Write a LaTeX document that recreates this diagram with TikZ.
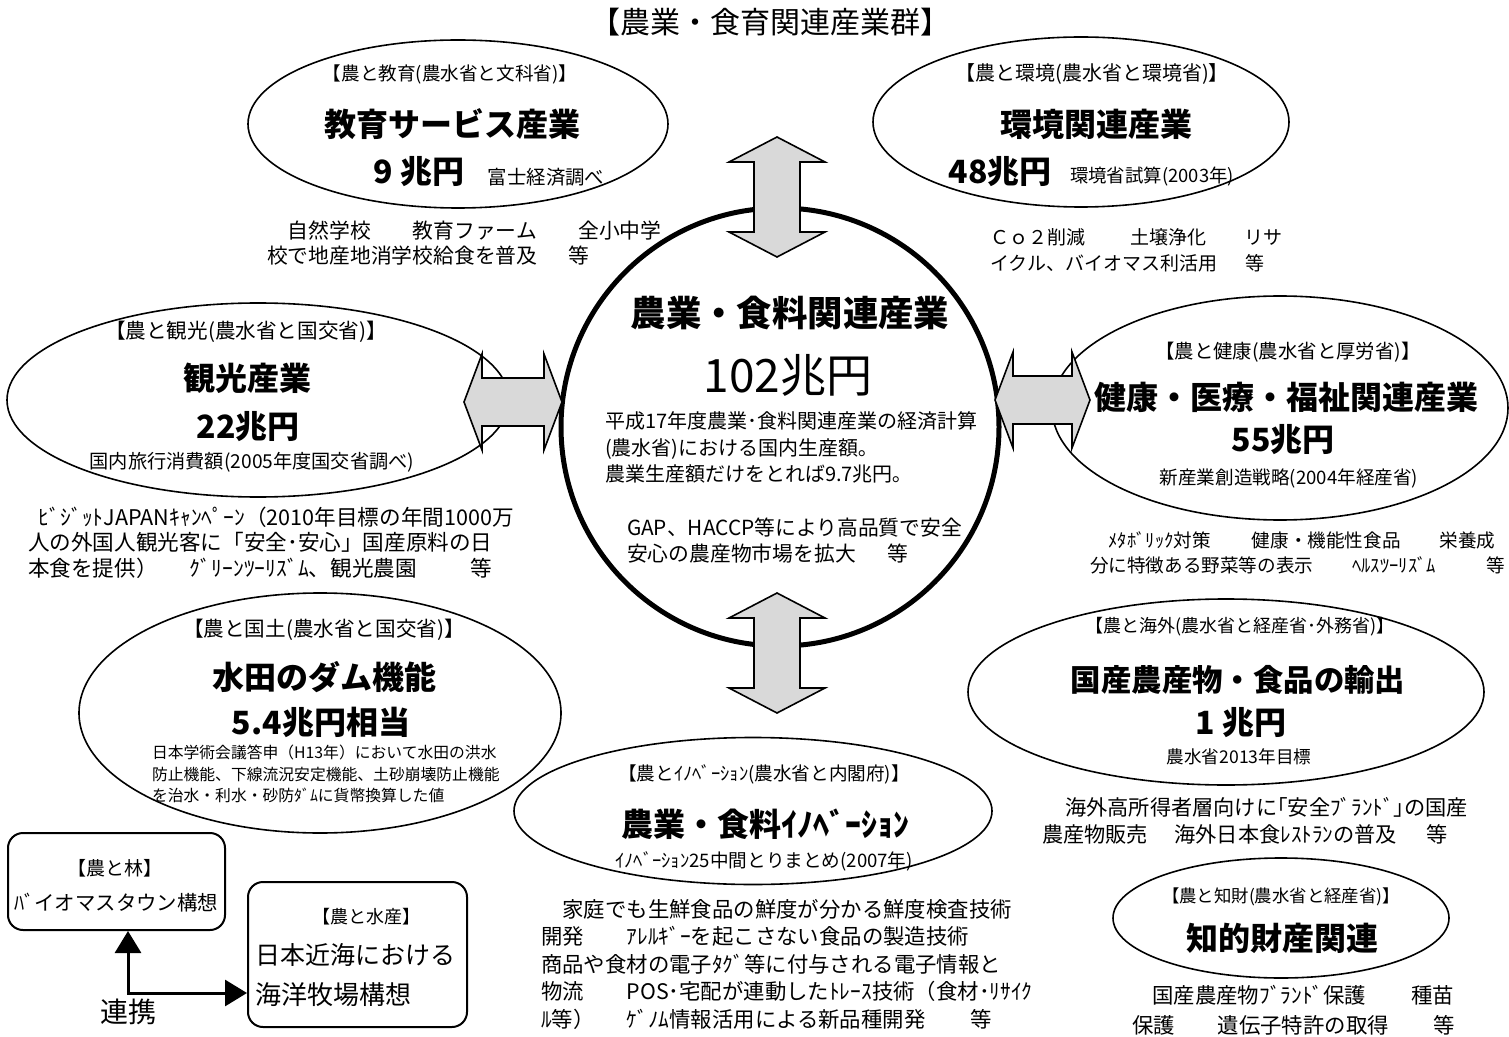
\documentclass[tikz,border=0pt]{standalone}
\usepackage{fontspec}
\setmainfont{Noto Sans CJK JP}
\usetikzlibrary{arrows.meta,shapes.geometric}
\definecolor{arrowgray}{RGB}{217,217,217}
\newcommand\jfs[2]{\fontsize{#1}{#2}\selectfont}
\newcommand\varrowshape[3]{\draw[dbl] (#1,#2) -- (#1+48,#2+25) -- (#1+23,#2+25) -- (#1+23,#3-25) -- (#1+48,#3-25) -- (#1,#3) -- (#1-48,#3-25) -- (#1-23,#3-25) -- (#1-23,#2+25) -- (#1-48,#2+25) -- cycle;}
\newcommand\harrowshape[3]{\draw[dbl] (#2,#1) -- (#2+18,#1-48) -- (#2+18,#1-24) -- (#3-18,#1-24) -- (#3-18,#1-48) -- (#3,#1) -- (#3-18,#1+48) -- (#3-18,#1+24) -- (#2+18,#1+24) -- (#2+18,#1+48) -- cycle;}
\tikzset{
  oval/.style={draw, ellipse, line width=0.8pt, inner sep=0pt, outer sep=0pt},
  txt/.style={inner sep=0pt, outer sep=0pt, anchor=center},
  blk/.style={inner sep=0pt, outer sep=0pt, anchor=north west, align=left},
  dbl/.style={draw, fill=arrowgray, line width=0.8pt, line join=miter},
  rbox/.style={draw, rounded corners=7.5pt, line width=1pt, inner sep=0pt},
  conn/.style={line width=1.5pt, {Triangle[length=11pt,width=13pt]}-{Triangle[length=11pt,width=13pt]}},
  bignum/.style={txt, font=\bfseries\jfs{16}{19}},
  namebold/.style={txt, font=\bfseries\jfs{16}{19}}
}
\begin{document}
\begin{tikzpicture}[x=0.5pt,y=-0.5pt]
\useasboundingbox (0,0) rectangle (1509,1037);

% title
\node[txt, font=\jfs{15}{18}] (title) at (770,22) {【農業・食育関連産業群】};

% ovals
\node[oval, minimum width=210pt, minimum height=84pt] (edu) at (458,124) {};
\node[oval, minimum width=208pt, minimum height=85pt] (env) at (1081,122) {};
\node[oval, minimum width=251pt, minimum height=97pt] (tour) at (258,400) {};
\node[oval, minimum width=228pt, minimum height=112pt] (health) at (1280,408) {};
\node[oval, minimum width=241pt, minimum height=120pt] (land) at (320,713) {};
\node[oval, minimum width=258pt, minimum height=93pt] (abroad) at (1226,692) {};
\node[oval, minimum width=168pt, minimum height=60pt] (ip) at (1281,918) {};
\node[oval, minimum width=239pt, minimum height=73.5pt] (innov) at (753,811) {};
\node[draw, circle, line width=2.5pt, minimum size=219pt, inner sep=0pt] (core) at (780,427) {};

% arrows
\varrowshape{777}{137}{257}
\varrowshape{777}{593}{713}
\harrowshape{402}{464}{562}
\harrowshape{400}{995}{1090}

% education
\node[txt, font=\jfs{9.3}{11}] (edus) at (450,74) {【農と教育(農水省と文科省)】};
\node[namebold] (edun) at (452,124) {教育サービス産業};
\node[bignum] (edua) at (419,172) {9 兆円};
\node[txt, font=\jfs{9.7}{11}] (edusrc) at (546,177) {富士経済調べ};
\node[blk, font=\jfs{10.4}{12.5}] (edud) at (267,221) {　自然学校\hspace{2em}教育ファーム\hspace{2em}全小中学\\校で地産地消学校給食を普及\hspace{1.5em}等};

% environment
\node[txt, font=\jfs{10}{12}] (envs) at (1092,74) {【農と環境(農水省と環境省)】};
\node[namebold] (envn) at (1096,124) {環境関連産業};
\node[bignum] (enva) at (1000,172) {48兆円};
\node[txt, font=\jfs{9.2}{11}] (envsrc) at (1152,177) {環境省試算(2003年)};
\node[blk, font=\jfs{9.5}{13}] (envd) at (990,228.5) {Ｃｏ２削減\hspace{2.4em}土壌浄化\hspace{2em}リサ\\イクル、バイオマス利活用\hspace{1.5em}等};

% tourism
\node[txt, font=\jfs{10.3}{12}] (tours) at (246,332) {【農と観光(農水省と国交省)】};
\node[namebold] (tourn) at (247,378) {観光産業};
\node[bignum] (toura) at (248,427) {22兆円};
\node[txt, font=\jfs{9.6}{11}] (toursrc) at (252,462) {国内旅行消費額(2005年度国交省調べ)};
\node[blk, font=\jfs{10.8}{12.75}] (tourd) at (28,507) {\hspace{0.5em}ﾋﾞｼﾞｯﾄJAPANｷｬﾝﾍﾟｰﾝ（2010年目標の年間1000万\\人の外国人観光客に「安全･安心」国産原料の日\\本食を提供）\hspace{1.5em}ｸﾞﾘｰﾝﾂｰﾘｽﾞﾑ、観光農園\hspace{2.5em}等};

% health
\node[txt, font=\jfs{9.7}{11}] (healths) at (1288,352) {【農と健康(農水省と厚労省)】};
\node[namebold] (healthn) at (1286,397) {健康・医療・福祉関連産業};
\node[bignum] (healtha) at (1283,440) {55兆円};
\node[txt, font=\jfs{9.3}{11}] (healthsrc) at (1289,478) {新産業創造戦略(2004年経産省)};
\node[blk, font=\jfs{9.3}{12.5}] (healthd) at (1090,531.6) {　ﾒﾀﾎﾞﾘｯｸ対策\hspace{2.2em}健康・機能性食品\hspace{2.1em}栄養成\\分に特徴ある野菜等の表示\hspace{2.1em}ﾍﾙｽﾂｰﾘｽﾞﾑ\hspace{2.7em}等};

% land
\node[txt, font=\jfs{10.3}{12}] (lands) at (324,630) {【農と国土(農水省と国交省)】};
\node[namebold] (landn) at (324,677) {水田のダム機能};
\node[bignum] (landa) at (321,722) {5.4兆円相当};
\node[blk, font=\jfs{7.9}{10.8}] (landd) at (152,745) {日本学術会議答申（H13年）において水田の洪水\\防止機能、下線流況安定機能、土砂崩壊防止機能\\を治水・利水・砂防ﾀﾞﾑに貨幣換算した値};

% abroad
\node[txt, font=\jfs{9}{11}] (abroads) at (1240,627) {【農と海外(農水省と経産省･外務省)】};
\node[txt, font=\bfseries\jfs{15.2}{18}] (abroadn) at (1238,680) {国産農産物・食品の輸出};
\node[bignum] (abroada) at (1241,723) {1 兆円};
\node[txt, font=\jfs{8.8}{11}] (abroadsrc) at (1239,757) {農水省2013年目標};
\node[blk, font=\jfs{10.6}{13.5}] (abroadd) at (1042,797.5) {\hspace{1.1em}海外高所得者層向けに｢安全ﾌﾞﾗﾝﾄﾞ｣の国産\\農産物販売\hspace{1.25em}海外日本食ﾚｽﾄﾗﾝの普及\hspace{1.4em}等};

% intellectual property
\node[txt, font=\jfs{8.7}{11}] (ips) at (1281,897) {【農と知財(農水省と経産省)】};
\node[namebold] (ipn) at (1282,938) {知的財産関連};
\node[blk, font=\jfs{10.7}{15}] (ipd) at (1132,985.4) {\hspace{0.95em}国産農産物ﾌﾞﾗﾝﾄﾞ保護\hspace{2.1em}種苗\\保護\hspace{2em}遺伝子特許の取得\hspace{2.1em}等};

% innovation
\node[txt, font=\jfs{9.3}{11}] (innovs) at (764,774) {【農とｲﾉﾍﾞｰｼｮﾝ(農水省と内閣府)】};
\node[txt, font=\bfseries\jfs{16}{19}] (innovn) at (765,824) {農業・食料ｲﾉﾍﾞｰｼｮﾝ};
\node[txt, font=\jfs{9.3}{11}] (innovsrc) at (764,861) {ｲﾉﾍﾞｰｼｮﾝ25中間とりまとめ(2007年)};
\node[blk, font=\jfs{10.7}{13.75}] (innovd) at (541,899) {　家庭でも生鮮食品の鮮度が分かる鮮度検査技術\\開発\hspace{2em}ｱﾚﾙｷﾞｰを起こさない食品の製造技術\\商品や食材の電子ﾀｸﾞ等に付与される電子情報と\\物流\hspace{2em}POS･宅配が連動したﾄﾚｰｽ技術（食材･ﾘｻｲｸ\\ﾙ等）\hspace{1.5em}ｹﾞﾉﾑ情報活用による新品種開発\hspace{2.1em}等};

% core
\node[txt, font=\bfseries\jfs{17.7}{21}] (coren) at (790,313) {農業・食料関連産業};
\node[txt, font=\jfs{23}{27}] (corea) at (788,375) {102兆円};
\node[blk, font=\jfs{10}{13.25}] (cored) at (605,412) {平成17年度農業･食料関連産業の経済計算\\(農水省)における国内生産額｡\\農業生産額だけをとれば9.7兆円｡};
\node[blk, font=\jfs{10.4}{13}] (coree) at (627,517.6) {GAP、HACCP等により高品質で安全\\安心の農産物市場を拡大\hspace{1.5em}等};

% boxes
\node[rbox, minimum width=108.5pt, minimum height=48.5pt] (rin) at (116.5,881.5) {};
\node[txt, font=\jfs{9.5}{11}] (rins) at (115,868) {【農と林】};
\node[txt, font=\jfs{10.2}{12}] (rinn) at (116,903) {ﾊﾞイオマスタウン構想};
\node[rbox, minimum width=109.5pt, minimum height=72.5pt] (sui) at (357.5,954.5) {};
\node[txt, font=\jfs{9}{11}] (suis) at (366,917) {【農と水産】};
\node[txt, anchor=west, font=\jfs{12.5}{15}] (suin1) at (255,955) {日本近海における};
\node[txt, anchor=west, font=\jfs{13}{15}] (suin2) at (255,995) {海洋牧場構想};
\coordinate (elb) at (128,993);
\draw[conn] (rin.south -| elb) -- (elb) -- (elb -| sui.west);
\node[txt, font=\jfs{14}{16}] (renkei) at (128,1012) {連携};
\end{tikzpicture}
\end{document}
